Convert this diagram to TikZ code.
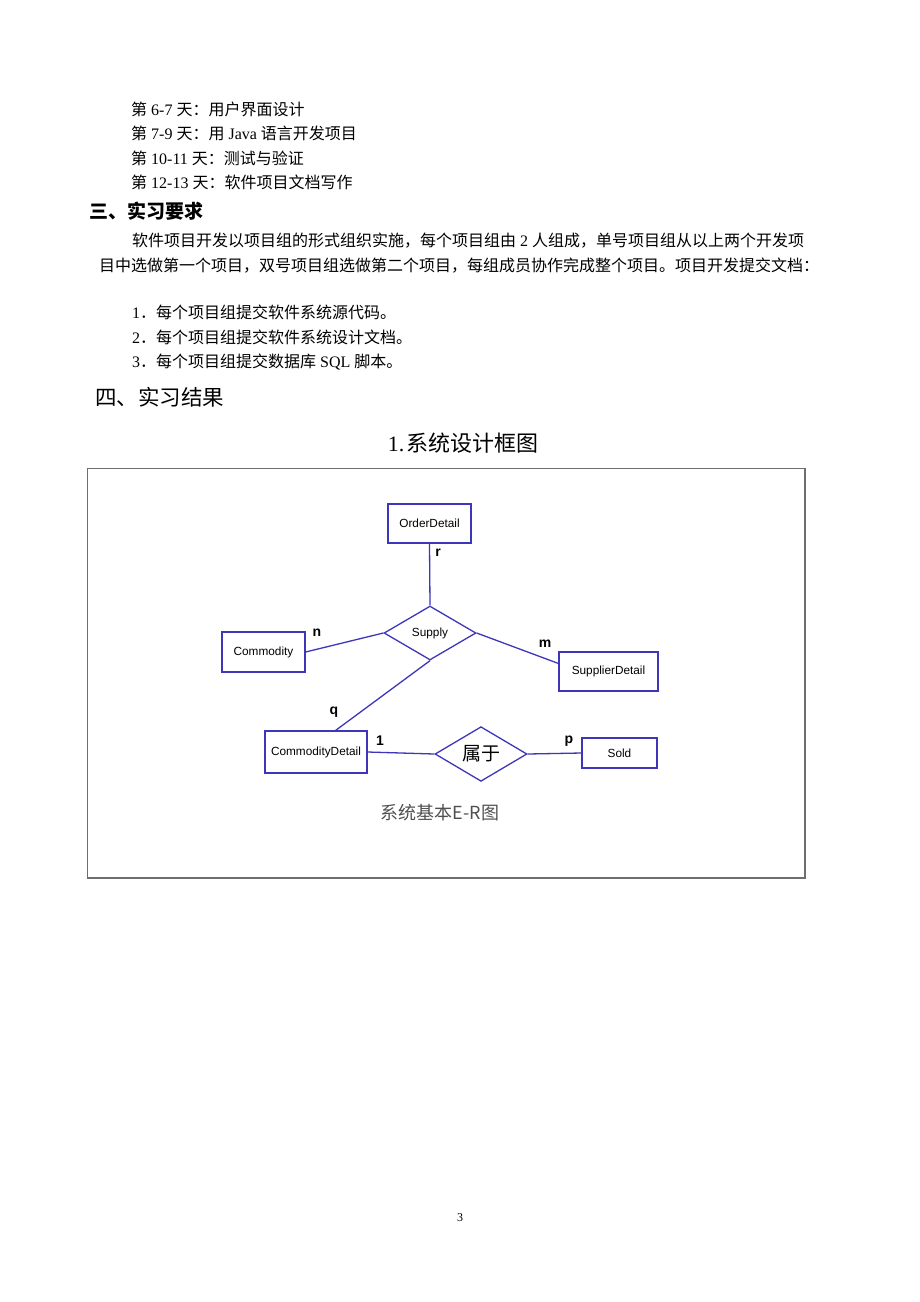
\documentclass[tikz,border=0pt]{standalone}
\usepackage{fontspec}
\setmainfont{Liberation Serif}
\newfontfamily\cjk{Noto Sans CJK SC}
\newfontfamily\sansf{Liberation Sans}
\usetikzlibrary{shapes.geometric,calc}
\definecolor{erblue}{RGB}{62,54,186}
\definecolor{capgray}{RGB}{80,80,80}
\definecolor{framegray}{RGB}{110,110,110}
\newcommand\zh[1]{{\cjk #1}}
\begin{document}
\begin{tikzpicture}[x=1pt,y=-1pt,
  txt/.style={anchor=base west,inner sep=0pt,font=\fontsize{16}{16}\selectfont},
  head/.style={anchor=base west,inner sep=0pt,font=\fontsize{19}{19}\selectfont\cjk\bfseries},
  bighead/.style={anchor=base west,inner sep=0pt,font=\fontsize{21.5}{21.5}\selectfont\cjk},
  entity/.style={draw=erblue,line width=1.2pt,rectangle,inner sep=0pt,font=\fontsize{11.8}{11.8}\selectfont\sansf},
  rel/.style={draw=erblue,line width=1.3pt,diamond,inner sep=0pt},
  conn/.style={draw=erblue,line width=1.3pt},
  card/.style={inner sep=0pt,font=\fontsize{14}{14}\selectfont\sansf\bfseries}
]
\useasboundingbox[fill=white] (0,0) rectangle (920,1302);

% --- text above ---
\node[txt] (d1) at (131,115) {\zh{第} 6-7 \zh{天：用户界面设计}};
\node[txt] (d2) at (131,139) {\zh{第} 7-9 \zh{天：用} Java \zh{语言开发项目}};
\node[txt] (d3) at (131,164) {\zh{第} 10-11 \zh{天：测试与验证}};
\node[txt] (d4) at (131,188) {\zh{第} 12-13 \zh{天：软件项目文档写作}};

\node[head] (h3) at (89,218) {三、实习要求};

\node[txt] (p1) at (132,246) {\zh{软件项目开发以项目组的形式组织实施，每个项目组由} 2 \zh{人组成，单号项目组从以上两个开发项}};
\node[txt] (p2) at (99,271) {\zh{目中选做第一个项目，双号项目组选做第二个项目，每组成员协作完成整个项目。项目开发提交文档：}};

\node[txt] (i1) at (132,318) {1\zh{．每个项目组提交软件系统源代码。}};
\node[txt] (i2) at (132,343) {2\zh{．每个项目组提交软件系统设计文档。}};
\node[txt] (i3) at (132,367) {3\zh{．每个项目组提交数据库} SQL \zh{脚本。}};

\node[bighead] (h4) at (95,405) {四、实习结果};

\node[anchor=base,inner sep=0pt,font=\fontsize{22}{22}\selectfont] (title) at (463,451) {1.\kern2pt\zh{系统设计框图}};

% --- frame ---
\draw[framegray,line width=1.2pt] (87.5,468.5) rectangle (805,878);

% --- ER diagram ---
\node[entity,minimum width=83,minimum height=39] (od) at (429.5,523.5) {OrderDetail};
\node[rel,minimum width=92,minimum height=54,font=\fontsize{11.8}{11.8}\selectfont\sansf] (supply) at (430,633) {Supply};
\node[entity,minimum width=83,minimum height=40] (com) at (263.5,652) {Commodity};
\node[entity,minimum width=99,minimum height=39] (sd) at (608.5,671.5) {SupplierDetail};
\node[entity,minimum width=102,minimum height=42] (cd) at (316,752) {CommodityDetail};
\node[rel,minimum width=92,minimum height=46,font=\fontsize{19}{19}\selectfont\cjk] (belong) at (481,754) {属于};
\node[entity,minimum width=75,minimum height=30] (sold) at (619.5,753) {Sold};

\draw[conn] (od.south) -- (supply.north);
\draw[conn] (com.east) -- (supply.west);
\draw[conn] (supply.east) -- ($(sd.north west)!0.3!(sd.south west)$);
\draw[conn] (supply.south) -- ($(cd.north west)!0.69!(cd.north east)$);
\draw[conn] (cd.east) -- (belong.west);
\draw[conn] (belong.east) -- (sold.west);

\node[card] (lr) at (438,553) {r};
\node[card] (ln) at (317,633) {n};
\node[card] (lm) at (545,644) {m};
\node[card] (lq) at (334,712) {q};
\node[card] (l1) at (380,741) {1};
\node[card] (lp) at (569,741) {p};

\node[anchor=base,inner sep=0pt,text=capgray,font=\fontsize{18}{18}\selectfont\cjk] (cap) at (440,819) {系统基本E-R图};

% --- page number ---
\node[anchor=base,inner sep=0pt,font=\fontsize{12}{12}\selectfont] (pg) at (460,1221) {3};
\end{tikzpicture}
\end{document}
